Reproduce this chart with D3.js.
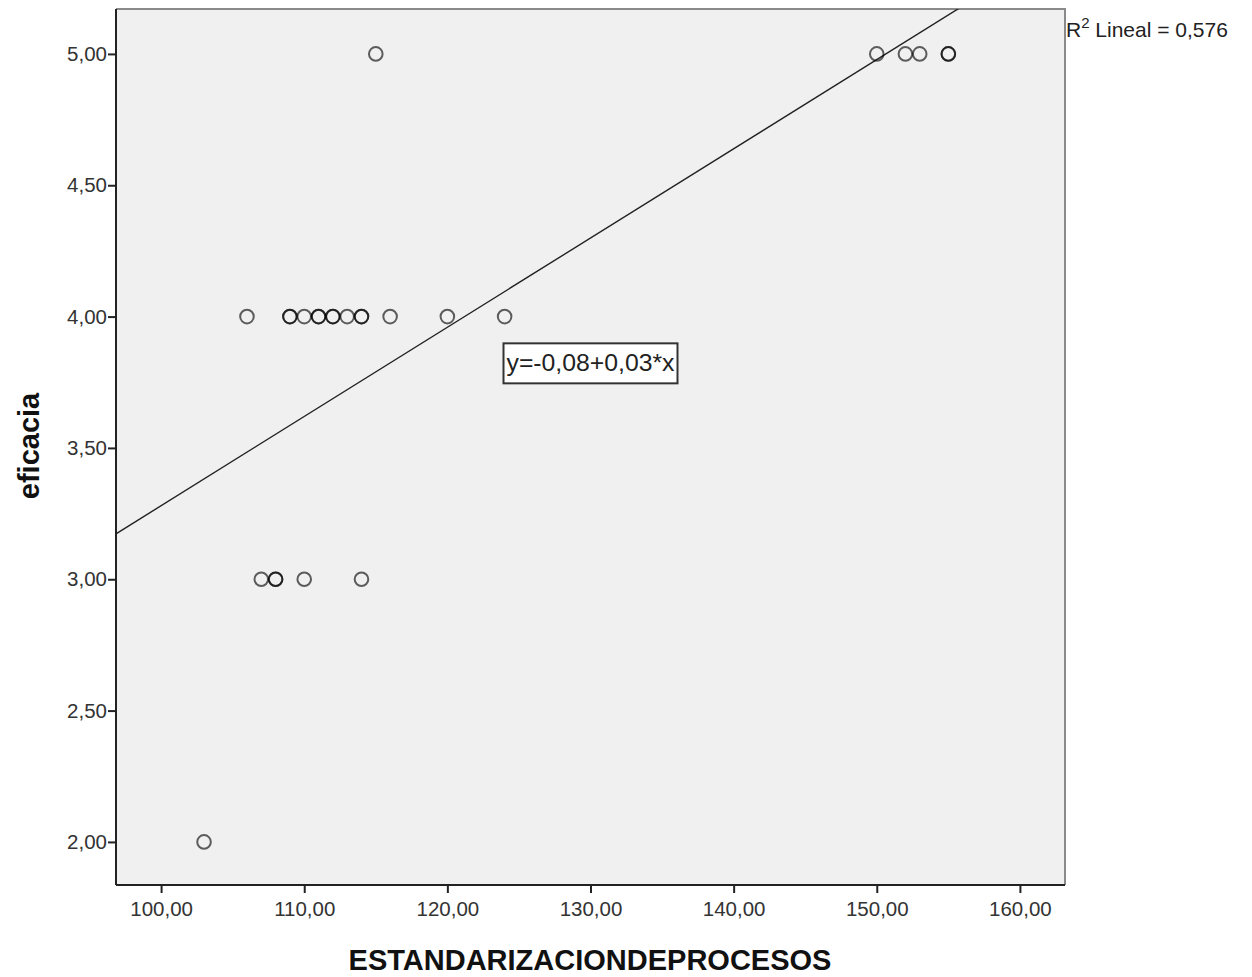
<!DOCTYPE html>
<html>
<head>
<meta charset="utf-8">
<script src="https://cdn.jsdelivr.net/npm/d3@7"></script>
<style>
  body { margin: 0; background: #fff; }
  text { font-family: "Liberation Sans", Arial, sans-serif; }
</style>
</head>
<body>
<div id="chart"></div>
<script>
// data (duplicates listed twice)
var xValues = [103, 106, 107, 108, 108, 109, 109, 110, 110, 111, 111, 112, 112, 113, 114, 114, 114, 115, 116, 120, 124, 150, 152, 153, 155, 155];
var yValues = [2, 4, 3, 3, 3, 4, 4, 4, 3, 4, 4, 4, 4, 4, 4, 4, 3, 5, 4, 4, 4, 5, 5, 5, 5, 5];
var xTicks = [100, 110, 120, 130, 140, 150, 160];
var yTicks = [2.0, 2.5, 3.0, 3.5, 4.0, 4.5, 5.0];
var fitLine = [-0.117, 0.03397]; // intercept, slope as drawn
var equationLabel = "y=-0,08+0,03*x";
var r2Label = "0,576";

var width = 1252, height = 977;
var plot = { left: 116, right: 1065, top: 9, bottom: 885 };

var svg = d3.select("#chart").append("svg")
  .attr("width", width)
  .attr("height", height);

var x = d3.scaleLinear().domain([96.85, 163.15]).range([plot.left, plot.right]);
var y = d3.scaleLinear().domain([1.836, 5.171]).range([plot.bottom, plot.top]);

var fmt = function (d) { return d3.format(".2f")(d).replace(".", ","); };

// plot background
svg.append("rect")
  .attr("x", plot.left).attr("y", plot.top)
  .attr("width", plot.right - plot.left)
  .attr("height", plot.bottom - plot.top)
  .attr("fill", "#f0f0f0");

// top/right frame (gray)
svg.append("path")
  .attr("d", `M${plot.left},${plot.top}H${plot.right}V${plot.bottom}`)
  .attr("fill", "none")
  .attr("stroke", "#8a8a8a")
  .attr("stroke-width", 2);

// axes
var xAxis = svg.append("g")
  .attr("transform", `translate(0,${plot.bottom})`)
  .call(d3.axisBottom(x).tickValues(xTicks).tickFormat(fmt).tickSize(8).tickSizeOuter(0));
var yAxis = svg.append("g")
  .attr("transform", `translate(${plot.left},0)`)
  .call(d3.axisLeft(y).tickValues(yTicks).tickFormat(fmt).tickSize(8).tickSizeOuter(0));

[xAxis, yAxis].forEach(function (ax) {
  ax.select(".domain").attr("stroke", "#222").attr("stroke-width", 2);
  ax.selectAll(".tick line").attr("stroke", "#222").attr("stroke-width", 2);
  ax.selectAll(".tick text")
    .attr("fill", "#333")
    .style("font-size", "20.5px")
    .style("font-family", "'Liberation Sans', Arial, sans-serif");
});
xAxis.selectAll(".tick text").attr("y", 16).attr("dy", "0.71em");
yAxis.selectAll(".tick text").attr("x", -9);
xAxis.select(".domain").attr("d", `M${plot.left},0H${plot.right}`);
yAxis.select(".domain").attr("d", `M0,${plot.top}V${plot.bottom}`);

// clip for fit line
svg.append("clipPath").attr("id", "clip")
  .append("rect")
  .attr("x", plot.left).attr("y", plot.top)
  .attr("width", plot.right - plot.left)
  .attr("height", plot.bottom - plot.top);

var xd = x.domain();
svg.append("line")
  .attr("clip-path", "url(#clip)")
  .attr("x1", x(xd[0])).attr("y1", y(fitLine[0] + fitLine[1] * xd[0]))
  .attr("x2", x(xd[1])).attr("y2", y(fitLine[0] + fitLine[1] * xd[1]))
  .attr("stroke", "#222")
  .attr("stroke-width", 1.4);

// points
svg.append("g")
  .selectAll("circle")
  .data(xValues.map(function (v, i) { return { x: v, y: yValues[i] }; }))
  .join("circle")
  .attr("cx", function (d) { return x(d.x); })
  .attr("cy", function (d) { return y(d.y); })
  .attr("r", 6.8)
  .attr("fill", "none")
  .attr("stroke", "rgba(0,0,0,0.62)")
  .attr("stroke-width", 2);

// equation label box
var eq = svg.append("g").attr("transform", `translate(${x(130)},${y(3.822)})`);
eq.append("rect")
  .attr("x", -87).attr("y", -20)
  .attr("width", 174).attr("height", 40)
  .attr("fill", "#fff")
  .attr("stroke", "#333")
  .attr("stroke-width", 2);
eq.append("text")
  .attr("x", -84).attr("y", 8)
  .attr("textLength", 168)
  .attr("lengthAdjust", "spacingAndGlyphs")
  .attr("fill", "#222")
  .style("font-size", "23px")
  .text(equationLabel);

// R2 label
var r2 = svg.append("text")
  .attr("x", plot.right + 1).attr("y", 37)
  .attr("fill", "#222")
  .style("font-size", "21px");
r2.append("tspan").text("R");
r2.append("tspan").attr("dy", -9).style("font-size", "15px").text("2");
r2.append("tspan").attr("dy", 9).text(" Lineal = " + r2Label);

// axis titles
svg.append("text")
  .attr("x", 590).attr("y", 970)
  .attr("text-anchor", "middle")
  .attr("fill", "#111")
  .style("font-size", "29px")
  .style("font-weight", "bold")
  .text("ESTANDARIZACIONDEPROCESOS");

svg.append("text")
  .attr("transform", `translate(39,446) rotate(-90)`)
  .attr("text-anchor", "middle")
  .attr("fill", "#111")
  .style("font-size", "29px")
  .style("font-weight", "bold")
  .text("eficacia");
</script>
</body>
</html>
